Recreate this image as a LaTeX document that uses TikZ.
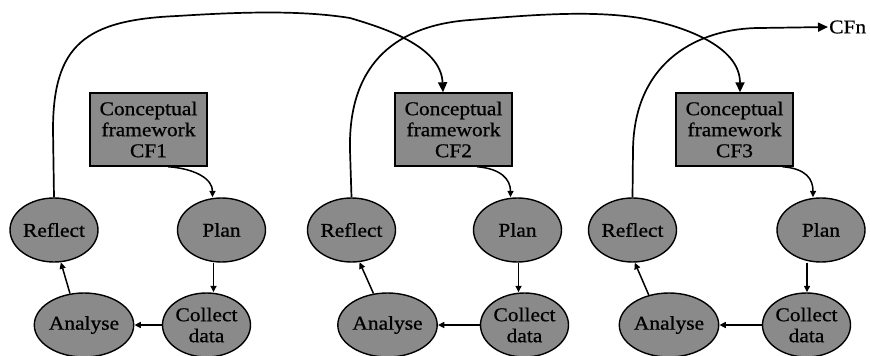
\documentclass[tikz,border=0pt]{standalone}
\usepackage{fontspec}
\setmainfont{Liberation Serif}[FakeStretch=1.1,FakeBold=0.8]
\usetikzlibrary{shapes.geometric,arrows.meta}
\definecolor{boxgray}{RGB}{138,138,138}
\begin{document}
\begin{tikzpicture}[x=1pt,y=-1pt,
  every node/.style={font=\fontsize{19.5}{21}\selectfont, text=black},
  frame/.style={draw, line width=1.4pt, fill=boxgray, minimum width=117pt,
    minimum height=73pt, inner sep=0pt, align=center},
  stage/.style={ellipse, draw, line width=1.4pt, fill=boxgray, minimum width=88pt,
    minimum height=64pt, inner sep=0pt, align=center},
  loop/.style={line width=1.7pt, -{Triangle[length=10pt,width=9pt]}},
  sarr/.style={line width=1.5pt, -{Triangle[length=6.5pt,width=6pt]}}]

\useasboundingbox (0,0) rectangle (870,356);
\clip (0,0) rectangle (870,356);

% conceptual frameworks
\node[frame] (F1) at (148.5,129.5) {Conceptual\\framework\\CF1};
\node[frame] (F2) at (453.5,129.5) {Conceptual\\framework\\CF2};
\node[frame] (F3) at (734.5,129.5) {Conceptual\\framework\\CF3};

% cycle 1
\node[stage] (R1) at (54,230)    {Reflect};
\node[stage] (P1) at (221.5,230) {Plan};
\node[stage] (A1) at (84,325)    {Analyse};
\node[stage] (C1) at (206.5,325) {Collect\\data};

% cycle 2
\node[stage] (R2) at (351.5,230) {Reflect};
\node[stage] (P2) at (517.5,230) {Plan};
\node[stage] (A2) at (387.5,325) {Analyse};
\node[stage] (C2) at (524.5,325) {Collect\\data};

% cycle 3
\node[stage] (R3) at (632.5,230) {Reflect};
\node[stage] (P3) at (821,230)   {Plan};
\node[stage] (A3) at (669,325)   {Analyse};
\node[stage] (C3) at (806.5,325) {Collect\\data};

\node[anchor=west, inner sep=1pt] (CFn) at (828,27) {CFn};

% framework -> plan
\draw[sarr] ([xshift=19.5pt]F1.south) .. controls +(28,2) and +(0,-18) .. ([xshift=-9pt]P1.north);
\draw[sarr] ([xshift=23.5pt]F2.south) .. controls +(24,2) and +(0,-18) .. ([xshift=-7pt]P2.north);
\draw[sarr] ([xshift=48pt]F3.south) .. controls +(24,2) and +(0,-18) .. ([xshift=-8pt]P3.north);

% plan -> collect data
\coordinate (p1b) at ([xshift=-8pt]P1.south);
\coordinate (p2b) at ([xshift=1pt]P2.south);
\coordinate (p3b) at ([xshift=-14pt]P3.south);
\draw[sarr] (p1b) -- (p1b |- C1.north);
\draw[sarr] (p2b) -- (p2b |- C2.north);
\draw[sarr] (p3b) -- (p3b |- C3.north);

% collect data -> analyse
\draw[sarr] (C1.west) -- (A1.east);
\draw[sarr] (C2.west) -- (A2.east);
\draw[sarr] (C3.west) -- (A3.east);

% analyse -> reflect
\draw[sarr] (A1.114) -- (R1.282);
\draw[sarr] (A2.114) -- (R2.284);
\draw[sarr] (A3.124) -- (R3.274);

% reflect -> next framework
\draw[loop] (R1.north) -- (53,130)
  .. controls (53,45) and (85,20) .. (177,16)
  .. controls (240,12) and (300,10) .. (350,18)
  .. controls (380,27) and (441,45) .. ([xshift=-10.5pt]F2.north);
\draw[loop] (R2.north) -- (350,150)
  .. controls (348,60) and (400,25) .. (470,20)
  .. controls (530,15) and (590,10) .. (640,18)
  .. controls (680,25) and (740,45) .. ([xshift=5.5pt]F3.north);
\draw[loop] (R3.north) -- (633,150)
  .. controls (634,60) and (700,28) .. (760,28)
  -- (CFn.west);
\end{tikzpicture}
\end{document}
